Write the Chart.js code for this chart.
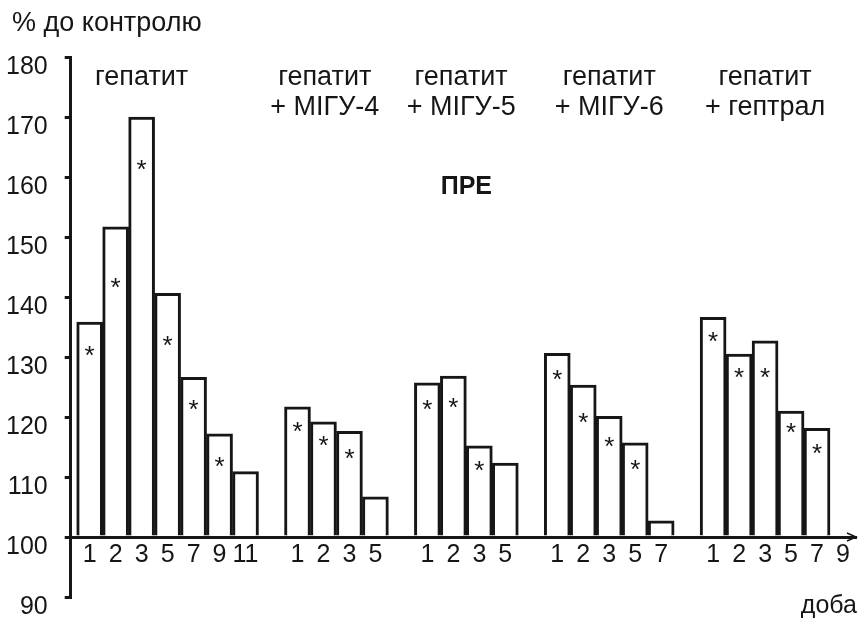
<!DOCTYPE html>
<html>
<head>
<meta charset="utf-8">
<script src="https://cdn.jsdelivr.net/npm/chart.js@4.4.1/dist/chart.umd.min.js"></script>
<style>
  html, body { margin: 0; padding: 0; background: #fff; }
  #wrap { width: 859px; height: 620px; }
</style>
</head>
<body>
<div id="wrap"><canvas id="myChart"></canvas></div>
<script>
// day of observation for each slot on the x axis ('' = gap between groups)
var days = ['1', '2', '3', '5', '7', '9', '11', '',
  '1', '2', '3', '5', '',
  '1', '2', '3', '5', '',
  '1', '2', '3', '5', '7', '',
  '1', '2', '3', '5', '7', '9'];

// ПРЕ, % of control (null = no bar)
var values = [135.8, 151.7, 170, 140.6, 126.6, 117.2, 110.9, null,
  121.7, 119.2, 117.6, 106.7, null,
  125.7, 126.8, 115.2, 112.3, null,
  130.6, 125.3, 120.1, 115.7, 102.7, null,
  136.6, 130.5, 132.7, 121.0, 118.1, null];

// level of the significance asterisk inside each bar (null = none)
var stars = [131.3, 142.6, 162.3, 133.0, 122.3, 112.8, null, null,
  118.7, 116.3, 114.1, null, null,
  122.3, 122.7, 112.1, null, null,
  127.3, 120.2, 116.2, 112.4, null, null,
  133.7, 127.7, 127.6, 118.5, 115.0, null];

var groupTitles = [
  ['гепатит'],
  ['гепатит', '+ МІГУ-4'],
  ['гепатит', '+ МІГУ-5'],
  ['гепатит', '+ МІГУ-6'],
  ['гепатит', '+ гептрал']
];

var FONT = '"Liberation Sans", Arial, sans-serif';
var INK = '#161616';

var bars = [];
values.forEach(function (v, i) {
  if (v !== null) bars.push({ x: i, y: v });
});

// text, asterisks and the axis arrow
var annotations = {
  id: 'annotations',
  afterDatasetsDraw: function (chart, args, opts) {
    var ctx = chart.ctx;
    var xs = chart.scales.x, ys = chart.scales.y;
    ctx.save();
    ctx.fillStyle = INK;

    // asterisks
    ctx.font = '26px ' + FONT;
    ctx.textAlign = 'center';
    ctx.textBaseline = 'alphabetic';
    var meta = chart.getDatasetMeta(0);
    meta.data.forEach(function (bar, j) {
      var i = bars[j].x;
      if (stars[i] === null) return;
      ctx.fillText('*', bar.x, ys.getPixelForValue(stars[i]) + 15);
    });

    // group titles
    ctx.font = '27px ' + FONT;
    groupTitles.forEach(function (lines, g) {
      var x = xs.getPixelForValue(opts.titleAt[g]);
      lines.forEach(function (t, k) {
        ctx.fillText(t, x, ys.getPixelForValue(opts.lineAt[k]));
      });
    });

    ctx.font = 'bold 25px ' + FONT;
    ctx.fillText('ПРЕ', xs.getPixelForValue(opts.markAt[0]), ys.getPixelForValue(opts.markAt[1]));

    // axis captions
    ctx.font = '27px ' + FONT;
    ctx.textAlign = 'left';
    ctx.fillText('% до контролю', 12, 31);
    ctx.font = '25px ' + FONT;
    ctx.textAlign = 'right';
    ctx.fillText('доба', chart.width - 2, 613);

    // arrow at the end of the x axis
    var ay = ys.getPixelForValue(100);
    var ax = chart.chartArea.right;
    ctx.strokeStyle = INK;
    ctx.lineWidth = 1.5;
    ctx.beginPath();
    ctx.moveTo(ax - 9, ay - 4);
    ctx.lineTo(ax, ay);
    ctx.lineTo(ax - 9, ay + 4);
    ctx.stroke();
    ctx.restore();
  }
};

function noOverflow(scale) {
  scale.paddingTop = 0;
  scale.paddingBottom = 0;
  scale.paddingLeft = 0;
  scale.paddingRight = 0;
}

var ctx = document.getElementById('myChart').getContext('2d');

var myChart = new Chart(ctx, {
  type: 'bar',
  data: {
    datasets: [{
      data: bars,
      base: 100,
      backgroundColor: '#ffffff',
      borderColor: INK,
      borderWidth: 3,
      barPercentage: 1,
      categoryPercentage: 1
    }]
  },
  options: {
    responsive: true,
    maintainAspectRatio: false,
    animation: false,
    devicePixelRatio: 1,
    layout: { padding: { top: 57, left: -11, right: 3, bottom: 23 } },
    plugins: {
      legend: { display: false },
      tooltip: { enabled: false },
      annotations: {
        titleAt: [2.0, 9.05, 14.3, 20.0, 26.0],
        lineAt: [175.3, 170.3],
        markAt: [14.5, 157.2]
      }
    },
    scales: {
      x: {
        type: 'linear',
        position: { y: 100 },
        min: -0.73,
        max: 29.5,
        offset: false,
        afterBuildTicks: function (axis) {
          axis.ticks = days.map(function (d, i) { return { value: i }; });
        },
        afterFit: noOverflow,
        ticks: {
          autoSkip: false,
          maxRotation: 0,
          padding: 3,
          color: INK,
          font: { family: FONT, size: 25 },
          callback: function (v) { return days[v]; }
        },
        grid: { display: false, drawTicks: false },
        border: { color: INK, width: 3 }
      },
      y: {
        min: 90,
        max: 180,
        afterFit: noOverflow,
        ticks: {
          stepSize: 10,
          padding: 17,
          labelOffset: 10,
          color: INK,
          font: { family: FONT, size: 25 }
        },
        grid: {
          drawOnChartArea: false,
          drawTicks: true,
          tickLength: 6,
          color: INK,
          lineWidth: 3
        },
        border: { color: INK, width: 3 }
      }
    }
  },
  plugins: [annotations]
});
</script>
</body>
</html>
